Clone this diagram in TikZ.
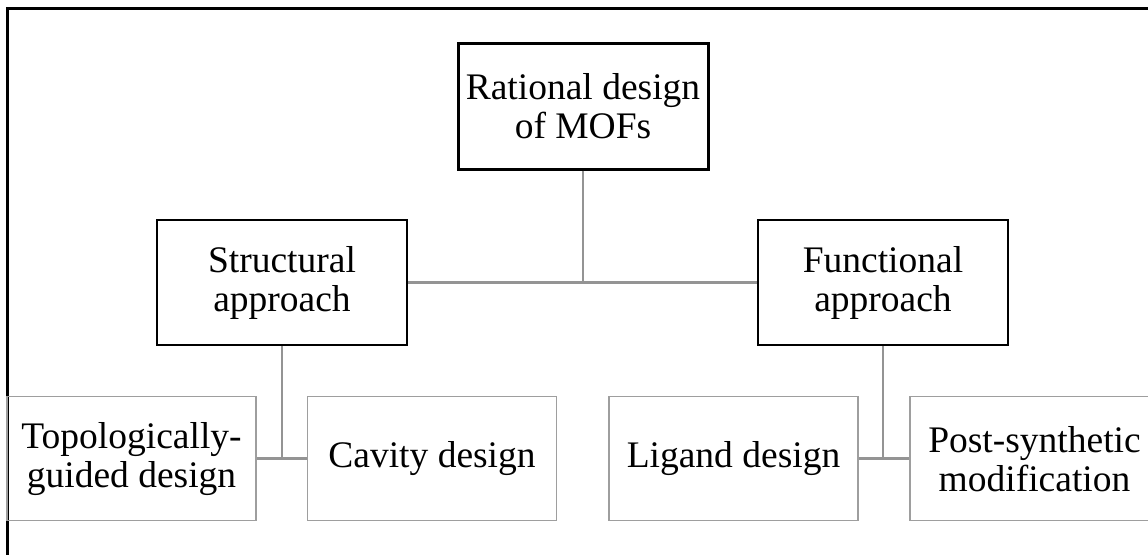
\documentclass[tikz,border=0pt]{standalone}
\usepackage{fontspec}
\setmainfont{Liberation Serif}
\begin{document}
\begin{tikzpicture}[x=1pt,y=-1pt,
  txt/.style={font=\fontsize{37.5}{39}\selectfont, align=center, inner sep=0pt},
  topbox/.style={txt, draw=black, line width=3pt, minimum width=250pt, minimum height=126pt},
  midbox/.style={txt, draw=black, line width=2.4pt, minimum width=250pt, minimum height=125pt},
  leafbox/.style={txt, draw=black!38, line width=1.5pt, minimum width=249pt, minimum height=124pt},
  conn/.style={draw=black!42, line width=2.6pt}]
\useasboundingbox (0,0) rectangle (1148,554);
% outer frame (only top and left edges visible)
\draw[line width=3pt, black] (7,560) -- (7,8.8) -- (1160,8.8);
\node[topbox] (root) at (583,106) {Rational design\\of MOFs};
\node[midbox] (struct) at (282,282.5) {Structural\\approach};
\node[midbox] (func) at (883,282.5) {Functional\\approach};
\node[leafbox] (topo) at (131.5,458.7) {Topologically-\\guided design};
\node[leafbox] (cav) at (432,458.7) {Cavity design};
\node[leafbox] (lig) at (733.5,458.7) {Ligand design};
\node[leafbox] (post) at (1034.5,458.7) {Post-synthetic\\modification};
\draw[conn] (struct.east) -- (func.west);
\draw[conn] (root.south) -- (root.south |- struct.east);
\draw[conn] (topo.east) -- (cav.west);
\draw[conn] (struct.south) -- (struct.south |- topo.east);
\draw[conn] (lig.east) -- (post.west);
\draw[conn] (func.south) -- (func.south |- lig.east);
\end{tikzpicture}
\end{document}
